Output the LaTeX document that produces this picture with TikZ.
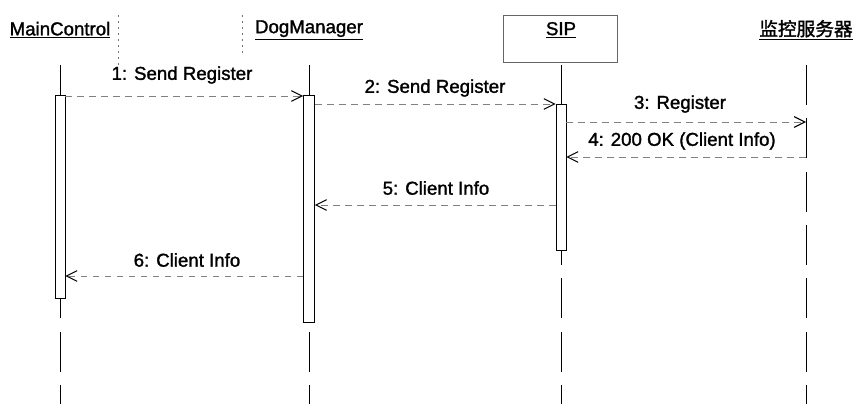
\documentclass[tikz,border=0pt]{standalone}
\usepackage{fontspec}
\setmainfont[FakeBold=1.5]{Liberation Sans}
\newfontfamily\cjk[FakeBold=1.5]{Noto Sans CJK SC}
\usetikzlibrary{arrows.meta}

\begin{document}
\begin{tikzpicture}[x=0.75pt, y=-0.75pt, font=\fontsize{14}{16}\selectfont,
    lifeline/.style={line width=0.6pt, dash pattern=on 30pt off 10pt},
    actbox/.style={draw, fill=white, line width=0.5pt, minimum width=7.5pt, inner sep=0pt, anchor=north},
    msg/.style={draw=black!50, line width=0.5pt, dash pattern=on 5pt off 4pt,
      -{Straight Barb[length=8pt, width=8pt, line width=0.8pt, color=black]}},
    msglabel/.style={inner sep=1pt},
    edgehint/.style={black!55, line width=0.5pt, dash pattern=on 1.5pt off 3pt}]
  \useasboundingbox (0,0) rectangle (860,404);
  % object headers
  \node[draw=black!60, line width=0.5pt, minimum width=114*0.75pt, minimum height=47*0.75pt] (sipbox) at (560,38.5) {};
  \node (mc)  at (60,30)  {\underline{MainControl}};
  \node (dm)  at (309,30) {\underline{DogManager}};
  \node (sip) at (561,30) {\underline{SIP}};
  \node (srv) at (806,30) {\underline{\cjk 监控服务器}};
  \draw[edgehint] (118,15) -- (118,65);
  \draw[edgehint] (242,15) -- (242,55);
  % lifelines
  \coordinate (lltop) at (0,65);
  \coordinate (llbot) at (0,404);
  \foreach \obj in {mc,dm,sip,srv}{
    \draw[lifeline] (\obj |- lltop) -- (\obj |- llbot);
  }
  % activations
  \node[actbox, minimum height=203*0.75pt] (actMC)  at (60,95)  {};
  \node[actbox, minimum height=227*0.75pt, minimum width=8.25pt] (actDM) at (309,95) {};
  \node[actbox, minimum height=146*0.75pt] (actSIP) at (561,104) {};
  % messages
  \foreach \n/\from/\to/\y/\txt/\lx/\ly in {
      1/actMC.east/actDM.west/96/{1: Send Register}/182/75,
      2/actDM.east/actSIP.west/104/{2: Send Register}/435/88,
      3/actSIP.east/srv/122/{3: Register}/680/104,
      4/srv/actSIP.east/157/{4: 200 OK (Client Info)}/682/141,
      5/actSIP.west/actDM.east/205/{5: Client Info}/436/188,
      6/actDM.west/actMC.east/276/{6: Client Info}/187/260}{
    \coordinate (r\n) at (0,\y);
    \draw[msg] (\from |- r\n) -- (\to |- r\n);
    \node[msglabel] (lbl\n) at (\lx,\ly) {\txt};
  }
\end{tikzpicture}
\end{document}
